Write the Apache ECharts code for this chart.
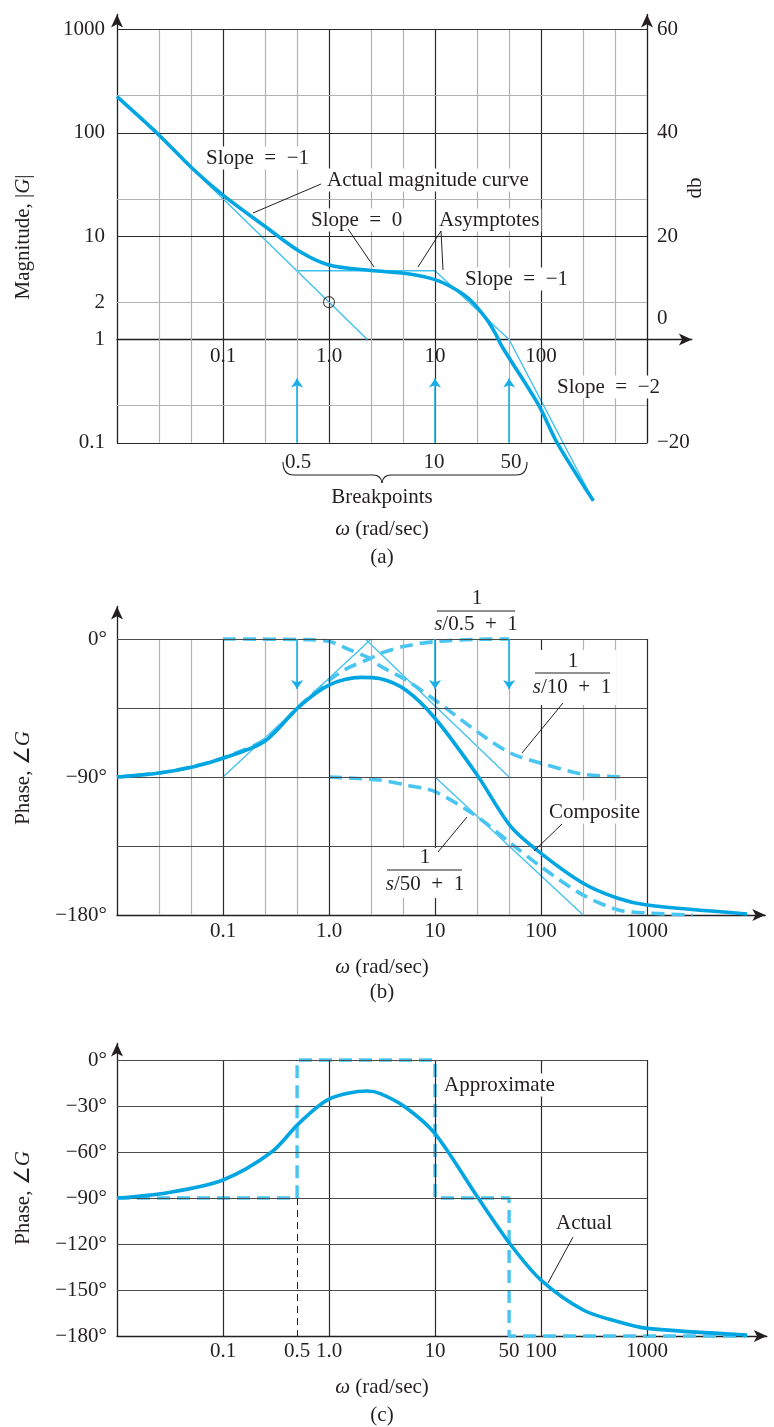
<!DOCTYPE html>
<html>
<head>
<meta charset="utf-8">
<script src="https://cdn.jsdelivr.net/npm/echarts@6/dist/echarts.min.js"></script>
<style>
  html, body { margin: 0; padding: 0; background: #fff; }
  #chart { width: 774px; height: 1427px; }
</style>
</head>
<body>
<div id="chart"></div>
<script>
// ---------------- data ----------------
// (a) magnitude |G| versus omega (rad/sec)
const magOmega  = [0.01, 0.025, 0.053, 0.1, 0.25, 0.53, 1, 2.5, 5.3, 10, 15, 21.5, 31, 37, 43, 95, 142, 312];
const magActual = [224, 95, 44, 25, 12.4, 7.1, 5.26, 4.65, 4.35, 3.8, 3.13, 2.41, 1.55, 1.15, 0.85, 0.232, 0.1, 0.0275];
const asymLowOmega  = [0.01, 2.3];
const asymLowMag    = [230, 1];
const asymHighOmega = [0.5, 10, 50, 312];
const asymHighMag   = [4.63, 4.63, 1.0, 0.0275];
const circledOmega = [1];
const circledMag   = [2.3];
const breakpoints = [0.5, 10, 50];
const magTickValues = [0.1, 1, 2.3, 10, 100, 1000];
const magTickText   = ['0.1', '1', '2', '10', '100', '1000'];
const dbTickValues  = [-20, 0, 20, 40, 60];
const dbTickText    = ['\u221220', '0', '20', '40', '60'];

// (b) phase of the individual factors and the composite
const phOmega     = [0.01, 0.025, 0.053, 0.1, 0.25, 0.52, 1, 2, 3, 5.3, 10, 25, 52, 100, 250, 530, 1000, 8800];
const phComposite = [-90, -87.4, -83.3, -77.8, -66.5, -44.2, -30, -25, -25.8, -33.3, -51.7, -88.7, -122.4, -139.8, -159.3, -169.1, -173.5, -179.3];
const pole10Omega = [0.1, 0.6, 1, 1.5, 2.5, 3.05, 5.3, 10, 25, 52, 100, 250, 536, 624];
const pole10Phase = [0, -0.4, -1.5, -6.5, -13, -17.6, -26.7, -39.8, -60.4, -74.5, -81, -88.2, -89.8, -90];
const zeroOmega   = [0.01, 0.025, 0.053, 0.1, 0.25, 0.52, 1, 1.5, 2.5, 3.05, 5.3, 10, 25, 50];
const zeroPhase   = [-90, -87.4, -83, -77.5, -65.5, -44, -27, -19, -12.4, -9.3, -4.6, -1.7, -0.2, 0];
const pole50Omega = [1, 3, 5.3, 10, 25, 52, 100, 250, 536, 1000, 2700];
const pole50Phase = [-90, -92, -95.2, -99.6, -115.9, -133.3, -148.5, -167, -176.7, -178.7, -180];
const asymZeroOmega   = [0.1, 2.5];   const asymZeroPhase   = [-90, 0];
const asymPole10Omega = [2.2, 50];    const asymPole10Phase = [0, -90];
const asymPole50Omega = [10, 250];    const asymPole50Phase = [-90, -180];

// (c) actual phase and the step approximation
const actOmega = [0.01, 0.03, 0.1, 0.29, 0.52, 1, 2.3, 3.05, 5.3, 10, 25, 52, 100, 250, 536, 1000, 8800];
const actPhase = [-90, -86.5, -78.2, -59.8, -41.3, -25.4, -20.2, -21.9, -30.9, -48, -89, -120.6, -143.5, -163, -170.7, -175, -179.3];
const approxOmega = [0.01, 0.5, 0.5, 10, 10, 50, 50, 8800];
const approxPhase = [-90, -90, 0, 0, -90, -90, -180, -180];

// tick labels and gridline positions
const omegaTickValues = [0.1, 1, 10, 100, 1000];
const omegaTickText   = ['0.1', '1.0', '10', '100', '1000'];
const omegaTickValuesC = [0.1, 0.5, 1, 10, 50, 100, 1000];
const omegaTickTextC   = ['0.1', '0.5', '1.0', '10', '50', '100', '1000'];
const phaseTicksB = [0, -90, -180];
const phaseTicksC = [0, -30, -60, -90, -120, -150, -180];
const majorOmega = [0.1, 1, 10, 100, 1000];
const minorOmega = [0.025, 0.05, 0.25, 0.5, 2.5, 5, 25, 50, 250, 500];
const magMajor = [0.1, 10, 100, 1000];
const magMinor = [0.23, 2.3, 23, 230];
const phaseLinesB = [0, -45, -90, -135];
const phaseLinesC = [0, -30, -60, -90, -120, -150];

// axis extents (the part past the last gridline carries the arrowhead)
const OMEGA_MIN = 0.01;
const omegaMaxA = 2650, omegaMaxB = 13060, omegaMaxC = 13500;
const magMin = 0.1, magMax = 1400;
const phaseMaxB = 21.2, phaseMaxC = 10.8;

// ---------------- layout ----------------
const LEFT = 117;
const PX_DECADE_X = 106;      // px per decade of omega
const PX_DECADE_MAG = 103.3;  // px per decade of |G|
const PX_DEG = 138 / 90;      // px per degree of phase
const wSpan = max => PX_DECADE_X * Math.log10(max / OMEGA_MIN);
const gA = { left: LEFT, top: 14.5, width: wSpan(omegaMaxA), height: PX_DECADE_MAG * Math.log10(magMax / magMin) };
const gB = { left: LEFT, top: 606.5, width: wSpan(omegaMaxB), height: (phaseMaxB + 180) * PX_DEG };
const gC = { left: LEFT, top: 1043.5, width: wSpan(omegaMaxC), height: (phaseMaxC + 180) * PX_DEG };

// ---------------- styling ----------------
const FONT = '"Liberation Serif", "Times New Roman", Times, serif';
const FS = 21;
const INK = '#231f20';
const BLUE = '#00a5e2';
const BLUE_THIN = '#3fc0ee';
const BLUE_DASH = '#48c5f0';
const ARROW_BLUE = '#1aaee6';
const MAJOR = { color: '#2b2b2b', width: 1.2, type: 'solid' };
const MINOR = { color: '#b2b2b2', width: 1.2, type: 'solid' };
const HLINE = { color: '#4a4a4a', width: 1.2, type: 'solid' };
const AXIS_LINE = {
  show: true, onZero: false, symbol: ['none', 'arrow'], symbolSize: [9, 13],
  lineStyle: { color: INK, width: 1.3 }
};

const pairs = (xs, ys) => xs.map((x, i) => [x, ys[i]]);
const near = (a, b) => Math.abs(a - b) <= 1e-6 * Math.max(1, Math.abs(b));
const lookup = (vals, texts) => v => {
  for (let i = 0; i < vals.length; i++) if (near(v, vals[i])) return texts[i];
  return '';
};
const degText = ticks => v => {
  if (!ticks.some(t => near(v, t))) return '';
  const r = Math.round(v);
  return r === 0 ? '0\u00b0' : '\u2212' + Math.abs(r) + '\u00b0';
};

const seg = (x0, y0, x1, y1, style) => [{ coord: [x0, y0], lineStyle: style }, { coord: [x1, y1] }];

function markSeries(xi, yi, items, opts) {
  return {
    type: 'line', xAxisIndex: xi, yAxisIndex: yi, data: [], silent: true, z: opts.z,
    markLine: Object.assign({
      silent: true, symbol: ['none', 'none'], label: { show: false }, animation: false, data: items
    }, opts.mark || {})
  };
}
function curve(xi, yi, data, color, width, dash, z, smooth) {
  return {
    type: 'line', xAxisIndex: xi, yAxisIndex: yi, data, showSymbol: false, clip: false,
    smooth: smooth === undefined ? 0.3 : smooth, silent: true, z,
    lineStyle: { color, width, type: dash || 'solid', cap: 'butt' }, animation: false
  };
}

// gridlines of the three panels
const gridA = [];
minorOmega.forEach(w => gridA.push(seg(w, magMin, w, 1000, MINOR)));
majorOmega.slice(0, 4).forEach(w => gridA.push(seg(w, magMin, w, 1000, MAJOR)));
magMinor.forEach(m => gridA.push(seg(OMEGA_MIN, m, 1000, m, MINOR)));
magMajor.forEach(m => gridA.push(seg(OMEGA_MIN, m, 1000, m, MAJOR)));

const gridB = [];
minorOmega.forEach(w => gridB.push(seg(w, -180, w, 0, MINOR)));
majorOmega.forEach(w => gridB.push(seg(w, -180, w, 0, MAJOR)));
phaseLinesB.forEach(p => gridB.push(seg(OMEGA_MIN, p, 1000, p, HLINE)));

const gridC = [];
majorOmega.forEach(w => gridC.push(seg(w, -180, w, 0, MAJOR)));
phaseLinesC.forEach(p => gridC.push(seg(OMEGA_MIN, p, 1000, p, HLINE)));

const bpA = breakpoints.map(w => seg(w, magMin, w, 0.42));
const bpB = breakpoints.map(w => seg(w, 0, w, -32.6));
const bpArrow = { symbol: ['none', 'arrow'], symbolSize: 9, lineStyle: { color: ARROW_BLUE, width: 1.6, type: 'solid' } };

function xAxis(gridIndex, max, vals, texts, offset, margin) {
  return {
    type: 'log', logBase: 10, gridIndex, min: OMEGA_MIN, max, offset, z: 3,
    axisLine: AXIS_LINE, axisTick: { show: false }, splitLine: { show: false },
    axisLabel: {
      customValues: vals, formatter: lookup(vals, texts), margin,
      fontFamily: FONT, fontSize: FS, color: INK, backgroundColor: '#fff', padding: [1, 3]
    }
  };
}
function phaseAxis(gridIndex, max, interval, ticks) {
  return {
    type: 'value', gridIndex, min: -180, max, interval, z: 3,
    axisLine: AXIS_LINE, axisTick: { show: false }, splitLine: { show: false },
    axisLabel: { customValues: ticks, formatter: degText(ticks), margin: 10, fontFamily: FONT, fontSize: FS, color: INK }
  };
}

const option = {
  animation: false,
  backgroundColor: '#fff',
  grid: [
    Object.assign({ outerBoundsMode: 'none' }, gA),
    Object.assign({ outerBoundsMode: 'none' }, gB),
    Object.assign({ outerBoundsMode: 'none' }, gC)
  ],
  xAxis: [
    xAxis(0, omegaMaxA, omegaTickValues.slice(0, 4), omegaTickText.slice(0, 4), -(PX_DECADE_MAG * Math.log10(1 / magMin)), 5),
    xAxis(1, omegaMaxB, omegaTickValues, omegaTickText, 0, 5),
    xAxis(2, omegaMaxC, omegaTickValuesC, omegaTickTextC, 0, 4)
  ],
  yAxis: [
    {
      type: 'log', logBase: 10, gridIndex: 0, min: magMin, max: magMax, z: 3,
      axisLine: AXIS_LINE, axisTick: { show: false }, splitLine: { show: false },
      axisLabel: { customValues: magTickValues, formatter: lookup(magTickValues, magTickText), margin: 12,
        fontFamily: FONT, fontSize: FS, color: INK }
    },
    {
      // decibel scale sharing the magnitude grid: 20·log10|G|
      type: 'value', gridIndex: 0, position: 'right',
      offset: -(PX_DECADE_X * Math.log10(omegaMaxA / 1000)),
      min: 20 * Math.log10(magMin), max: 20 * Math.log10(magMax), interval: 20, z: 3,
      axisLine: AXIS_LINE, axisTick: { show: false }, splitLine: { show: false },
      axisLabel: {
        customValues: dbTickValues, margin: 10, fontFamily: FONT, fontSize: FS, color: INK,
        formatter: v => {
          const t = lookup(dbTickValues, dbTickText)(v);
          return near(v, 0) ? '{up|' + t + '}' : t;
        },
        rich: { up: { fontFamily: FONT, fontSize: FS, color: INK, padding: [0, 0, 42, 0] } }
      }
    },
    phaseAxis(1, phaseMaxB, 90, phaseTicksB),
    phaseAxis(2, phaseMaxC, 30, phaseTicksC)
  ],
  series: [
    // (a)
    markSeries(0, 0, gridA, { z: 1 }),
    markSeries(0, 0, bpA, { z: 6, mark: bpArrow }),
    curve(0, 0, pairs(asymLowOmega, asymLowMag), BLUE_THIN, 1.4, 'solid', 4, false),
    curve(0, 0, pairs(asymHighOmega, asymHighMag), BLUE_THIN, 1.4, 'solid', 4, false),
    curve(0, 0, pairs(magOmega, magActual), BLUE, 3.6, 'solid', 5),
    {
      type: 'scatter', xAxisIndex: 0, yAxisIndex: 0, data: pairs(circledOmega, circledMag), symbol: 'circle',
      symbolSize: 11, z: 7, silent: true,
      itemStyle: { color: 'rgba(0,0,0,0)', borderColor: INK, borderWidth: 1.1 }
    },
    // (b)
    markSeries(1, 2, gridB, { z: 1 }),
    markSeries(1, 2, bpB, { z: 6, mark: bpArrow }),
    curve(1, 2, pairs(asymZeroOmega, asymZeroPhase), BLUE_THIN, 1.3, 'solid', 4, false),
    curve(1, 2, pairs(asymPole10Omega, asymPole10Phase), BLUE_THIN, 1.3, 'solid', 4, false),
    curve(1, 2, pairs(asymPole50Omega, asymPole50Phase), BLUE_THIN, 1.3, 'solid', 4, false),
    curve(1, 2, pairs(pole10Omega, pole10Phase), BLUE_DASH, 3.6, [13, 7], 4),
    curve(1, 2, pairs(zeroOmega, zeroPhase), BLUE_DASH, 3.6, [13, 7], 4),
    curve(1, 2, pairs(pole50Omega, pole50Phase), BLUE_DASH, 3.6, [13, 7], 4),
    curve(1, 2, pairs(phOmega, phComposite), BLUE, 3.6, 'solid', 5),
    // (c)
    markSeries(2, 3, gridC, { z: 1 }),
    markSeries(2, 3, [seg(breakpoints[0], -90, breakpoints[0], -180, { color: INK, width: 1, type: [7, 5] })], { z: 2 }),
    curve(2, 3, pairs(approxOmega, approxPhase), BLUE_DASH, 3.4, [13, 7], 4, false),
    curve(2, 3, pairs(actOmega, actPhase), BLUE, 3.6, 'solid', 5)
  ]
};

// ---------------- annotations ----------------
const RICH = {
  i: { fontStyle: 'italic', fontFamily: FONT, fontSize: FS, fill: INK, color: INK },
  n: { fontFamily: FONT, fontSize: FS, fill: INK, color: INK }
};
function txt(text, x, y, align, bg, extra) {
  return Object.assign({
    type: 'text', z: 100, x, y,
    style: {
      text, x: 0, y: 0, fill: INK, fontFamily: FONT, fontSize: FS,
      align: align || 'left', textAlign: align || 'left', verticalAlign: 'middle', textVerticalAlign: 'middle',
      backgroundColor: bg ? '#fff' : null, padding: bg ? [1, 2] : 0, rich: RICH
    }
  }, extra || {});
}
function ln(x1, y1, x2, y2, w) {
  return { type: 'line', z: 100, shape: { x1, y1, x2, y2 }, style: { stroke: INK, lineWidth: w || 1 } };
}
function box(x, y, width, height) {
  return { type: 'rect', z: 99, shape: { x, y, width, height }, style: { fill: '#fff' } };
}
function bez(x1, y1, cx, cy, x2, y2) {
  return { type: 'bezierCurve', z: 100, shape: { x1, y1, x2, y2, cpx1: cx, cpy1: cy }, style: { stroke: INK, lineWidth: 1.1, fill: null } };
}
const S = '\u2002';
const graphics = [
  // (a)
  txt('Slope' + S + '=' + S + '\u22121', 204, 158, 'left', true),
  txt('Actual magnitude curve', 325, 180, 'left', true),
  ln(321, 184, 253, 213),
  txt('Slope' + S + '=' + S + '0', 309, 220, 'left', true),
  ln(348, 229, 374, 267),
  txt('Asymptotes', 437, 220, 'left', true),
  ln(441, 231, 418, 267), ln(441, 231, 443, 270),
  txt('Slope' + S + '=' + S + '\u22121', 463, 279, 'left', true),
  txt('Slope' + S + '=' + S + '\u22122', 555, 387, 'left', true),
  txt('0.5', 298, 462, 'center'), txt('10', 434, 462, 'center'), txt('50', 511, 462, 'center'),
  bez(283, 462, 283, 475, 294, 475), ln(294, 475, 373, 475, 1.1),
  bez(373, 475, 381, 475, 382, 483), bez(382, 483, 383, 475, 391, 475),
  ln(391, 475, 516, 475, 1.1), bez(516, 475, 527, 475, 527, 462),
  txt('Breakpoints', 382, 497, 'center'),
  txt('{i|\u03c9} (rad/sec)', 382, 529, 'center'),
  txt('(a)', 382, 557, 'center'),
  txt('{n|Magnitude, |}{i|G}{n||}', 23, 237, 'center', false, { rotation: Math.PI / 2 }),
  txt('db', 695, 188, 'center', false, { rotation: Math.PI / 2 }),
  // (b)
  txt('1', 477, 598, 'center'), ln(437, 611, 515, 611, 1.1), txt('{i|s}/0.5' + S + '+' + S + '1', 476, 624, 'center'),
  box(530, 650, 86, 55),
  txt('1', 573, 661, 'center'), ln(535, 673, 610, 673, 1.1), txt('{i|s}/10' + S + '+' + S + '1', 572, 687, 'center'),
  ln(563, 703, 522, 753),
  txt('Composite', 547, 812, 'left', true),
  ln(562, 824, 534, 851),
  box(384, 848, 82, 50),
  txt('1', 425, 857, 'center'), ln(387, 870, 462, 870, 1.1), txt('{i|s}/50' + S + '+' + S + '1', 425, 884, 'center'),
  ln(438, 852, 467, 817),
  txt('{i|\u03c9} (rad/sec)', 382, 967, 'center'),
  txt('(b)', 382, 992, 'center'),
  txt('{n|Phase,} {n|\u2220}{i|G}', 23, 778, 'center', false, { rotation: Math.PI / 2 }),
  // (c)
  txt('Approximate', 442, 1085, 'left', true),
  txt('Actual', 554, 1223, 'left', true),
  ln(573, 1237, 548, 1283),
  txt('{i|\u03c9} (rad/sec)', 382, 1387, 'center'),
  txt('(c)', 382, 1415, 'center'),
  txt('{n|Phase,} {n|\u2220}{i|G}', 23, 1198, 'center', false, { rotation: Math.PI / 2 })
];
option.graphic = { elements: graphics };

const chart = echarts.init(document.getElementById('chart'), null, { renderer: 'canvas' });
chart.setOption(option);
</script>
</body>
</html>
